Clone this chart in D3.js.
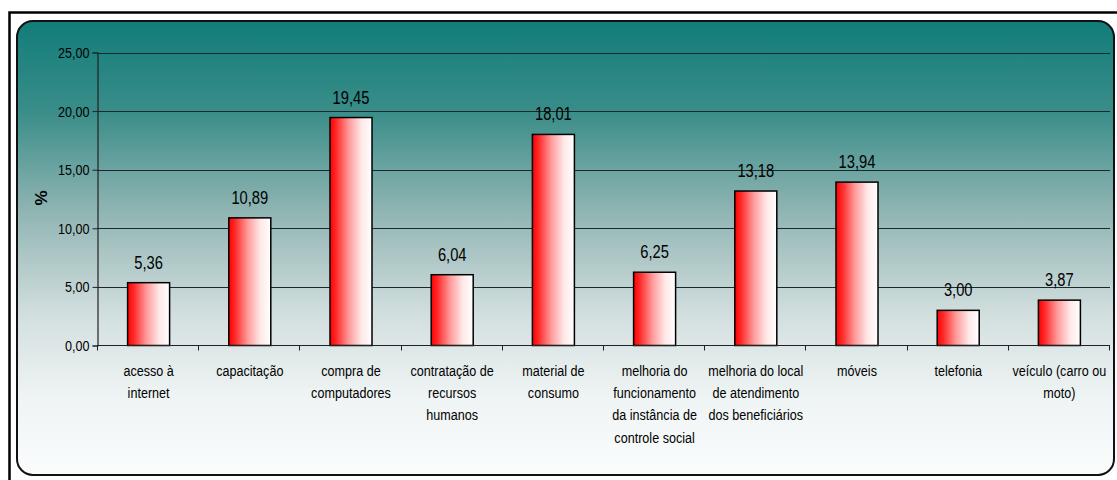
<!DOCTYPE html>
<html>
<head>
<meta charset="utf-8">
<script src="https://cdn.jsdelivr.net/npm/d3@7"></script>
<style>
  html, body { margin: 0; padding: 0; background: #fff; }
  svg { display: block; }
  text { font-family: "Liberation Sans Narrow", "Arial Narrow", "Liberation Sans", Arial, sans-serif; fill: #000; }
</style>
</head>
<body>
<svg id="chart" width="1117" height="480"></svg>
<script>
// Categories (multi-line labels) and percentages
const categories = [
  ["acesso à", "internet"],
  ["capacitação"],
  ["compra de", "computadores"],
  ["contratação de", "recursos", "humanos"],
  ["material de", "consumo"],
  ["melhoria do", "funcionamento", "da instância de", "controle social"],
  ["melhoria do local", "de atendimento", "dos beneficiários"],
  ["móveis"],
  ["telefonia"],
  ["veículo (carro ou", "moto)"]
];
const values = [5.36, 10.89, 19.45, 6.04, 18.01, 6.25, 13.18, 13.94, 3.00, 3.87];
const yTicks = [0, 5, 10, 15, 20, 25];

const fmt = v => v.toFixed(2).replace(".", ",");
const NARROW = 0.84; // horizontal squeeze for a condensed look

const svg = d3.select("#chart");
const defs = svg.append("defs");

// Panel background: teal at the top fading to near white
const bg = defs.append("linearGradient").attr("id", "bgGrad")
  .attr("x1", 0).attr("y1", 0).attr("x2", 0).attr("y2", 1);
[[0, "#117d79"], [0.2, "#3a8d89"], [0.42, "#90b5b3"], [0.65, "#d3dfdf"], [0.82, "#eef3f3"], [1, "#fbfdfd"]]
  .forEach(([o, c]) => bg.append("stop").attr("offset", o).attr("stop-color", c));

// Bar fill: red on the left to white on the right
const barGrad = defs.append("linearGradient").attr("id", "barGrad")
  .attr("x1", 0).attr("y1", 0).attr("x2", 1).attr("y2", 0);
[[0, "#ff0000"], [0.15, "#ff2a2a"], [0.45, "#ff9a9a"], [0.75, "#ffe8e8"], [1, "#ffffff"]]
  .forEach(([o, c]) => barGrad.append("stop").attr("offset", o).attr("stop-color", c));

// Outer frame
svg.append("rect")
  .attr("x", 9.5).attr("y", 12.5).attr("width", 1120).attr("height", 480)
  .attr("fill", "#fff").attr("stroke", "#000").attr("stroke-width", 2.5);

// Rounded panel
svg.append("rect")
  .attr("x", 17).attr("y", 21).attr("width", 1097).attr("height", 454)
  .attr("rx", 16).attr("ry", 16)
  .attr("fill", "url(#bgGrad)").attr("stroke", "#111").attr("stroke-width", 2);

const plot = { left: 97, right: 1109, top: 52.5, bottom: 345.5 };

const x = d3.scaleBand()
  .domain(d3.range(categories.length))
  .range([plot.left, plot.right])
  .paddingInner(0).paddingOuter(0);

const y = d3.scaleLinear().domain([0, 25]).range([plot.bottom, plot.top]);

// Horizontal gridlines
svg.append("g").selectAll("line").data(yTicks.filter(t => t > 0)).join("line")
  .attr("x1", plot.left).attr("x2", plot.right + 1)
  .attr("y1", d => Math.round(y(d)) + 0.5).attr("y2", d => Math.round(y(d)) + 0.5)
  .attr("stroke", "#1a2a2a").attr("stroke-width", 1.2);

// Bars
const barW = 42;
svg.append("g").selectAll("rect").data(values).join("rect")
  .attr("x", (d, i) => x(i) + x.bandwidth() / 2 - barW / 2 + 1)
  .attr("y", d => y(d))
  .attr("width", barW)
  .attr("height", d => y(0) - y(d))
  .attr("fill", "url(#barGrad)")
  .attr("stroke", "#000").attr("stroke-width", 1.5);

// Value labels
svg.append("g").selectAll("text").data(values).join("text")
  .attr("transform", (d, i) => `translate(${x(i) + x.bandwidth() / 2 + 1},${y(d) - 14}) scale(${NARROW},1)`)
  .attr("text-anchor", "middle")
  .attr("font-size", 17.5)
  .text(d => fmt(d));

// Y axis
const yAxis = svg.append("g")
  .attr("transform", `translate(${plot.left + 0.5},0)`)
  .call(d3.axisLeft(y).tickValues(yTicks).tickFormat(fmt).tickSize(5).tickPadding(3));
yAxis.select(".domain").attr("stroke", "#222").attr("stroke-width", 1.2);
yAxis.selectAll(".tick line").attr("stroke", "#222");
yAxis.selectAll("text")
  .attr("x", null).attr("dy", null)
  .attr("transform", `translate(-8,5) scale(${NARROW},1)`)
  .attr("font-size", 15).attr("fill", "#000")
  .attr("font-family", "'Liberation Sans Narrow', 'Arial Narrow', 'Liberation Sans', sans-serif");

// X axis with ticks at category boundaries
svg.append("line")
  .attr("x1", plot.left).attr("x2", plot.right + 1)
  .attr("y1", plot.bottom).attr("y2", plot.bottom)
  .attr("stroke", "#222").attr("stroke-width", 1.2);
svg.append("g").selectAll("line").data(d3.range(categories.length + 1)).join("line")
  .attr("x1", i => Math.round(plot.left + i * x.bandwidth()) + 0.5)
  .attr("x2", i => Math.round(plot.left + i * x.bandwidth()) + 0.5)
  .attr("y1", plot.bottom).attr("y2", plot.bottom + 5)
  .attr("stroke", "#222");

// Category labels
const cat = svg.append("g").selectAll("text").data(categories).join("text")
  .attr("text-anchor", "middle")
  .attr("font-size", 15)
  .attr("transform", (d, i) => `translate(${x(i) + x.bandwidth() / 2 + 1},${plot.bottom + 30}) scale(${NARROW},1)`);
cat.selectAll("tspan").data(d => d).join("tspan")
  .attr("x", 0).attr("dy", (d, j) => j === 0 ? 0 : 22.5)
  .text(d => d);

// Y axis title
svg.append("text")
  .attr("transform", "translate(47,198) rotate(-90)")
  .attr("text-anchor", "middle")
  .attr("font-size", 17).attr("font-weight", "bold")
  .text("%");
</script>
</body>
</html>
